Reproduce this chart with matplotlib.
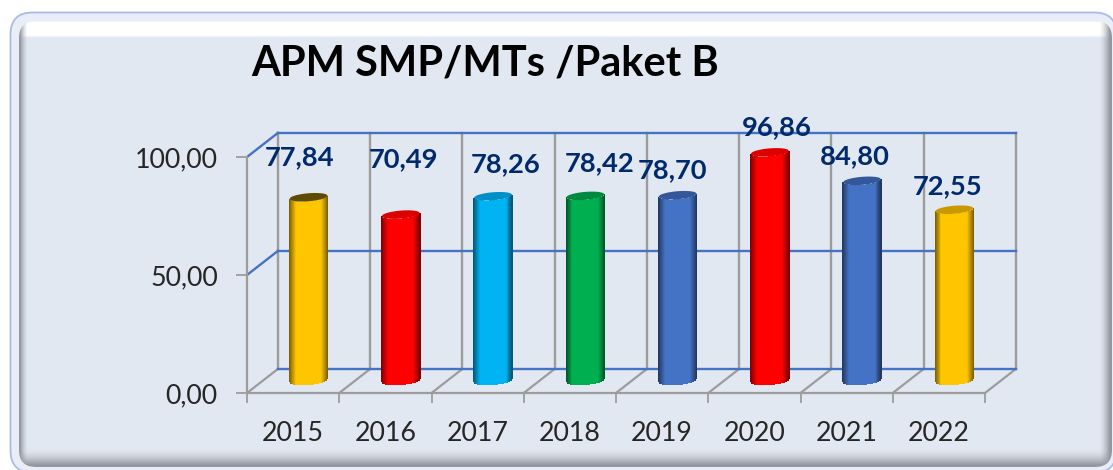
import numpy as np
import matplotlib
matplotlib.use('Agg')
import matplotlib.pyplot as plt
from matplotlib.colors import to_rgb
from matplotlib.patches import FancyBboxPatch, Polygon

plt.rcParams['font.family'] = ['Lato', 'DejaVu Sans']

years = ['2015', '2016', '2017', '2018', '2019', '2020', '2021', '2022']
values = [77.84, 70.49, 78.26, 78.42, 78.70, 96.86, 84.80, 72.55]
labels = ['77,84', '70,49', '78,26', '78,42', '78,70', '96,86', '84,80', '72,55']
y_ticks = [0, 50, 100]
y_tick_labels = ['0,00', '50,00', '100,00']

bar_colors = ['#FFC600', '#FF0000', '#00B4F4', '#00B050', '#4472C4', '#FF0000', '#4472C4', '#FFC600']
cap_colors = ['#5E4A00', '#DD0000', '#0090C8', '#008A40', '#33579A', '#DD0000', '#33579A', '#C89A00']
# posiciones a mano de las etiquetas, en pixeles respecto a la barra
label_offsets = [(-9, 40), (3, 55), (13, 32), (14, 33), (-5, 25), (7, 25), (-7, 25), (-7, 24)]

GRAY = '#9C9C9C'
BLUE = '#4472C4'
DEPTH_X = 0.335
DEPTH_Y = 10.2
BAR_W = 0.412
CAP_H = 1.7
CAP_TILT = 0.64

fig = plt.figure(figsize=(11.13, 4.7), dpi=100, facecolor='white')

# fondo con bisel
bg = fig.add_axes([0, 0, 1, 1], zorder=0)
bg.set_xlim(0, 1113)
bg.set_ylim(470, 0)
bg.axis('off')
bg.add_patch(FancyBboxPatch((10.5, 12.5), 1106, 460, boxstyle='round,pad=0,rounding_size=22',
                            fc='#E9EDF7', ec='#A9BBE6', lw=1.3))

xx, yy = np.meshgrid(np.arange(1113) + 0.5, np.arange(470) + 0.5)
img = np.ones((470, 1113, 3)) * np.array(to_rgb('#E2E8F1'))
edge = np.array(to_rgb('#93979F'))
white = np.array([1.0, 1.0, 1.0])
top_amt = np.clip((38 - yy) / 3, 0, 1)[..., None]
img = img * (1 - top_amt) + white * top_amt
for amt in [np.clip((28 - xx) / 8, 0, 1), np.clip((xx - 1099) / 11, 0, 1),
            np.clip((yy - 449) / 16, 0, 1), np.clip((22.5 - yy) / 2, 0, 1) * 0.5]:
    amt = (amt ** 1.6)[..., None]
    img = img * (1 - amt) + edge * amt
panel = bg.imshow(img, extent=(0, 1113, 470, 0), aspect='auto', zorder=2)
clip = FancyBboxPatch((19, 21), 1093, 446, boxstyle='round,pad=0,rounding_size=17',
                      fc='none', ec='none', transform=bg.transData)
bg.add_patch(clip)
panel.set_clip_path(clip)
bg.set_xlim(0, 1113)
bg.set_ylim(470, 0)

bg.text(485, 63, 'APM SMP/MTs /Paket B', fontsize=30, fontweight='bold', color='black',
        ha='center', va='center', zorder=3)

# grafico
ax = fig.add_axes([247 / 1113, (470 - 393) / 470, 738 / 1113, 236 / 470], zorder=1)
ax.patch.set_alpha(0)
ax.set_xlim(0, len(years))
ax.set_ylim(0, 100)
for s in ['top', 'right']:
    ax.spines[s].set_visible(False)
for s in ['left', 'bottom']:
    ax.spines[s].set_color(GRAY)
    ax.spines[s].set_linewidth(1.6)

ax.set_yticks(y_ticks, y_tick_labels, fontsize=19.3, color='#262626')
ax.tick_params(axis='y', length=8, width=1.3, color=GRAY, pad=13, labelcolor='#262626')
ax.set_xticks(np.arange(len(years) + 1), [''] * (len(years) + 1))
ax.tick_params(axis='x', which='major', length=7, width=1.3, color=GRAY)
ax.set_xticks(np.arange(len(years)) + 0.5, years, minor=True)
ax.tick_params(axis='x', which='minor', length=0, pad=20, labelsize=19.3, labelcolor='#262626')

# paredes
n = len(years)
for i in range(n + 1):
    ax.plot([i + DEPTH_X] * 2, [DEPTH_Y, 100 + DEPTH_Y], color=GRAY, lw=1.7, clip_on=False, zorder=1)
    ax.plot([i, i + DEPTH_X], [0, DEPTH_Y], color=GRAY, lw=1.6, clip_on=False, zorder=1)
for t in y_ticks:
    ax.plot([DEPTH_X, n + DEPTH_X], [t + DEPTH_Y] * 2, color=BLUE, lw=1.7, clip_on=False, zorder=1.5)
    if t > 0:
        ax.plot([0, DEPTH_X], [t, t + DEPTH_Y], color=BLUE, lw=1.7, clip_on=False, zorder=1.5)

# cilindros hechos con tiras finas
u = np.linspace(-1, 1, 40)
strip_w = BAR_W / (len(u) - 1)
shade = np.clip(0.5 + (1 - np.abs(u)) / 0.34 * 0.5, 0, 1)
lower = -CAP_H * np.sqrt(1 - u ** 2) + CAP_TILT * u
upper = CAP_H * np.sqrt(1 - u ** 2) + CAP_TILT * u
for i, (v, c, cap) in enumerate(zip(values, bar_colors, cap_colors)):
    cx = i + 0.5 + DEPTH_X / 2
    base = DEPTH_Y / 2
    strip_colors = [tuple(np.array(to_rgb(c)) * s) for s in shade]
    ax.bar(cx + u * BAR_W / 2, v + np.zeros_like(u), width=strip_w * 1.4, bottom=base + lower,
           color=strip_colors, linewidth=0, clip_on=False, zorder=3)
    cap_x = np.concatenate([cx + u * BAR_W / 2, cx + u[::-1] * BAR_W / 2])
    cap_y = np.concatenate([base + v + lower, base + v + upper[::-1]])
    ax.add_patch(Polygon(np.column_stack([cap_x, cap_y]), closed=True, fc=cap, ec='none',
                         clip_on=False, zorder=3.5))
    ax.annotate(labels[i], xy=(cx, base + v), xytext=label_offsets[i], textcoords='offset pixels',
                ha='center', va='center', fontsize=19.7, fontweight='bold', color='#002A6C',
                annotation_clip=False, zorder=5)

plt.savefig('out.png', dpi=100)
